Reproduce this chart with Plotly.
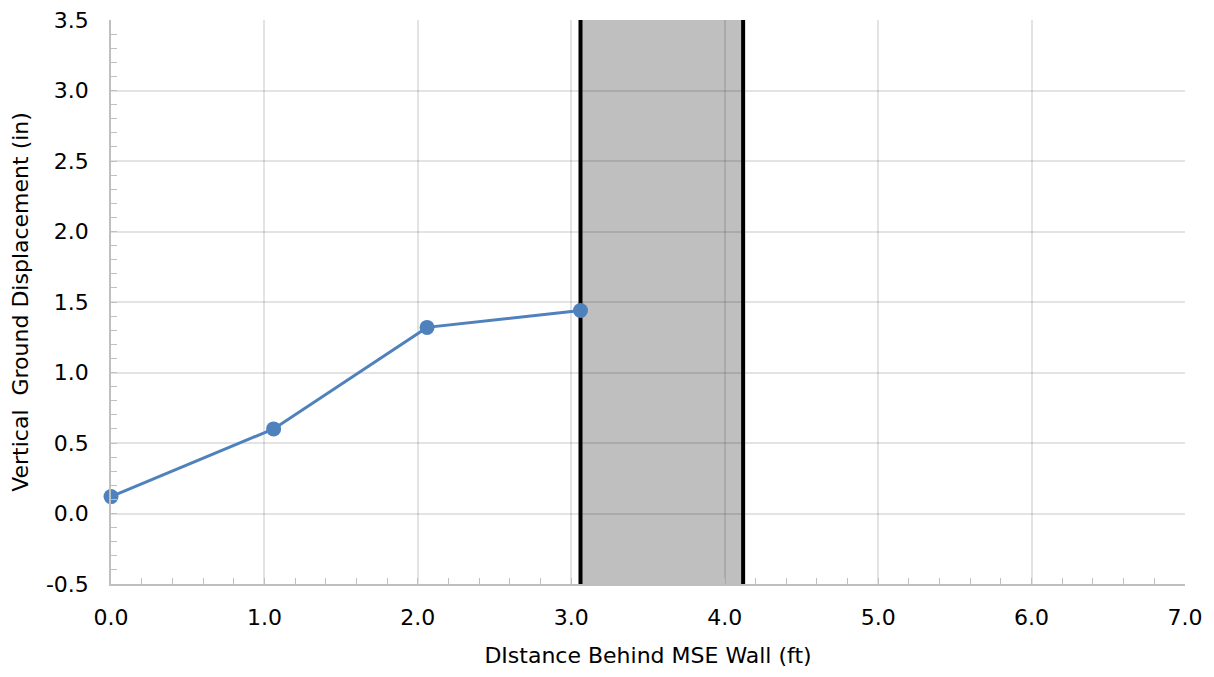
import plotly.graph_objects as go

# Data
distance_ft = [0.0, 1.06, 2.06, 3.06]
displacement_in = [0.12, 0.60, 1.32, 1.44]
zone_bounds_ft = [3.06, 4.12]

x_ticks = [0, 1, 2, 3, 4, 5, 6, 7]
y_ticks = [-0.5, 0.0, 0.5, 1.0, 1.5, 2.0, 2.5, 3.0, 3.5]

FONT = "DejaVu Sans"
BLUE = "#4f81bd"
GRID = "rgba(0,0,0,0.11)"
AXIS = "#bfbfbf"
FS = 22

fig = go.Figure()
fig.add_trace(go.Scatter(
    x=distance_ft, y=displacement_in, mode="lines+markers",
    line=dict(color=BLUE, width=3),
    marker=dict(color=BLUE, size=15),
    showlegend=False, cliponaxis=False,
))

# shaded zone
fig.add_shape(type="rect", xref="x", yref="paper",
              x0=zone_bounds_ft[0], x1=zone_bounds_ft[1], y0=0, y1=1,
              fillcolor="#bfbfbf", line=dict(width=0), layer="below")
for xb in zone_bounds_ft:
    fig.add_shape(type="line", xref="x", yref="paper",
                  x0=xb, x1=xb, y0=0, y1=1,
                  line=dict(color="black", width=4), layer="below")

fig.update_layout(
    width=1206, height=660,
    margin=dict(l=103, r=29, t=12, b=84),
    paper_bgcolor="white", plot_bgcolor="rgba(0,0,0,0)",
    font=dict(family=FONT, size=FS, color="black"),
)
fig.update_xaxes(
    range=[0, 7], tickvals=x_ticks, ticktext=[f"{v:.1f}" for v in x_ticks],
    showgrid=True, gridcolor=GRID, gridwidth=1.5,
    showline=True, linecolor=AXIS, linewidth=1.5,
    ticks="inside", ticklen=6, tickcolor=AXIS,
    minor=dict(dtick=0.2, ticks="inside", ticklen=6, tickcolor=AXIS, showgrid=False),
    zeroline=False, ticklabelstandoff=13, ticklabeloverflow="allow", automargin=False,
    title=dict(text="DIstance Behind MSE Wall (ft)", font=dict(size=FS), standoff=22),
    tickfont=dict(size=FS),
)
fig.update_yaxes(
    range=[-0.5, 3.5], tickvals=y_ticks, ticktext=[f"{v:.1f}" for v in y_ticks],
    showgrid=True, gridcolor=GRID, gridwidth=1.5,
    showline=True, linecolor=AXIS, linewidth=1.5,
    ticks="inside", ticklen=6, tickcolor=AXIS,
    minor=dict(dtick=0.1, ticks="inside", ticklen=6, tickcolor=AXIS, showgrid=False),
    zeroline=False, ticklabelstandoff=16, ticklabeloverflow="allow", automargin=False,
    title=dict(text="Vertical\u00a0 Ground Displacement (in)", font=dict(size=FS), standoff=12),
    tickfont=dict(size=FS),
)

fig.write_html("out.html")
